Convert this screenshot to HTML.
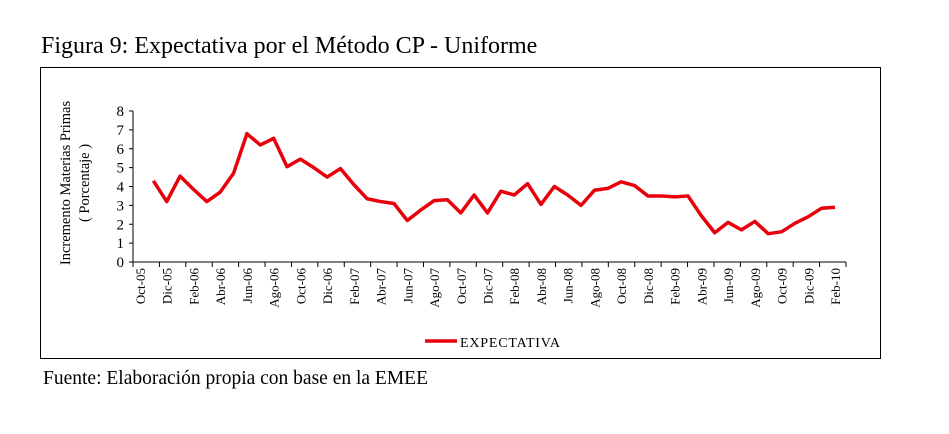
<!DOCTYPE html>
<html><head><meta charset="utf-8"><style>
body{margin:0;background:#fff;width:949px;height:434px;overflow:hidden;font-family:"Liberation Serif",serif}
</style></head><body>
<div style="position:absolute;left:41px;top:33px;font-size:24px">Figura 9: Expectativa por el Método CP - Uniforme</div>
<div style="position:absolute;left:40px;top:67px;width:839px;height:290px;border:1px solid #000"></div>
<svg width="949" height="434" style="position:absolute;left:0;top:0">
<g id="g" font-family="Liberation Serif, serif" font-size="13"></g>
</svg>
<div style="position:absolute;left:43px;top:368px;font-size:19.5px">Fuente: Elaboración propia con base en la EMEE</div>
<script>
const months=["Nov-05","Dic-05","Ene-06","Feb-06","Mar-06","Abr-06","May-06","Jun-06","Jul-06","Ago-06","Sep-06","Oct-06","Nov-06","Dic-06","Ene-07","Feb-07","Mar-07","Abr-07","May-07","Jun-07","Jul-07","Ago-07","Sep-07","Oct-07","Nov-07","Dic-07","Ene-08","Feb-08","Mar-08","Abr-08","May-08","Jun-08","Jul-08","Ago-08","Sep-08","Oct-08","Nov-08","Dic-08","Ene-09","Feb-09","Mar-09","Abr-09","May-09","Jun-09","Jul-09","Ago-09","Sep-09","Oct-09","Nov-09","Dic-09","Ene-10","Feb-10"];
const expectativa=[4.3,3.2,4.55,3.85,3.2,3.7,4.7,6.8,6.2,6.55,5.05,5.45,5.0,4.5,4.95,4.1,3.35,3.2,3.1,2.2,2.75,3.25,3.3,2.6,3.55,2.6,3.75,3.55,4.15,3.05,4.0,3.55,3.0,3.8,3.9,4.25,4.05,3.5,3.5,3.45,3.5,2.45,1.55,2.1,1.7,2.15,1.5,1.6,2.05,2.4,2.85,2.9];
const tickLabels=["Oct-05","Dic-05","Feb-06","Abr-06","Jun-06","Ago-06","Oct-06","Dic-06","Feb-07","Abr-07","Jun-07","Ago-07","Oct-07","Dic-07","Feb-08","Abr-08","Jun-08","Ago-08","Oct-08","Dic-08","Feb-09","Abr-09","Jun-09","Ago-09","Oct-09","Dic-09","Feb-10"];
const yTicks=[0,1,2,3,4,5,6,7,8];
const NS="http://www.w3.org/2000/svg",g=document.getElementById('g');
const x0=140,dx=(835-140)/52;
const xm=i=>x0+dx*(i+1);
const xt=k=>x0+dx*2*k;
const y=v=>262-v*(151/8);
function el(t,a,txt){const e=document.createElementNS(NS,t);for(const k in a)e.setAttribute(k,a[k]);if(txt!=null)e.textContent=txt;g.appendChild(e);return e;}
let e=el('line',{x1:133,y1:111,x2:133,y2:262,stroke:'#000'});


e=el('line',{x1:133,y1:262,x2:846,y2:262,stroke:'#000'});


yTicks.forEach(v=>{
 el('line',{x1:129,y1:y(v),x2:133,y2:y(v),stroke:'#000'});
 const t=el('text',{x:124,y:y(v)+5,'text-anchor':'end','font-size':15},v);
 
 
});
for(let k=0;k<=27;k++){const xx=133+k*(846-133)/27;el('line',{x1:xx,y1:262,x2:xx,y2:267,stroke:'#000'});}
tickLabels.forEach((l,k)=>{
 const t=el('text',{x:0,y:0,'text-anchor':'end',transform:`translate(${xt(k)+5},268) rotate(-90)`},l);
 
 
});
const yt=el('text',{x:0,y:0,'text-anchor':'middle','font-size':14.5,transform:'translate(70,183) rotate(-90)'},'Incremento  Materias  Primas');


const yt2=el('text',{x:0,y:0,'text-anchor':'middle','font-size':14.5,transform:'translate(89,183) rotate(-90)'},'( Porcentaje )');


const p=el('polyline',{points:expectativa.map((v,i)=>xm(i)+','+y(v)).join(' '),fill:'none',stroke:'#e8000b','stroke-width':3.5,'stroke-linejoin':'round'});


const ll=el('line',{x1:425,y1:341,x2:457,y2:341,stroke:'#e8000b','stroke-width':3.5});


const lt=el('text',{x:460,y:347,'font-size':14,textLength:100},'EXPECTATIVA');


</script>
</body></html>
